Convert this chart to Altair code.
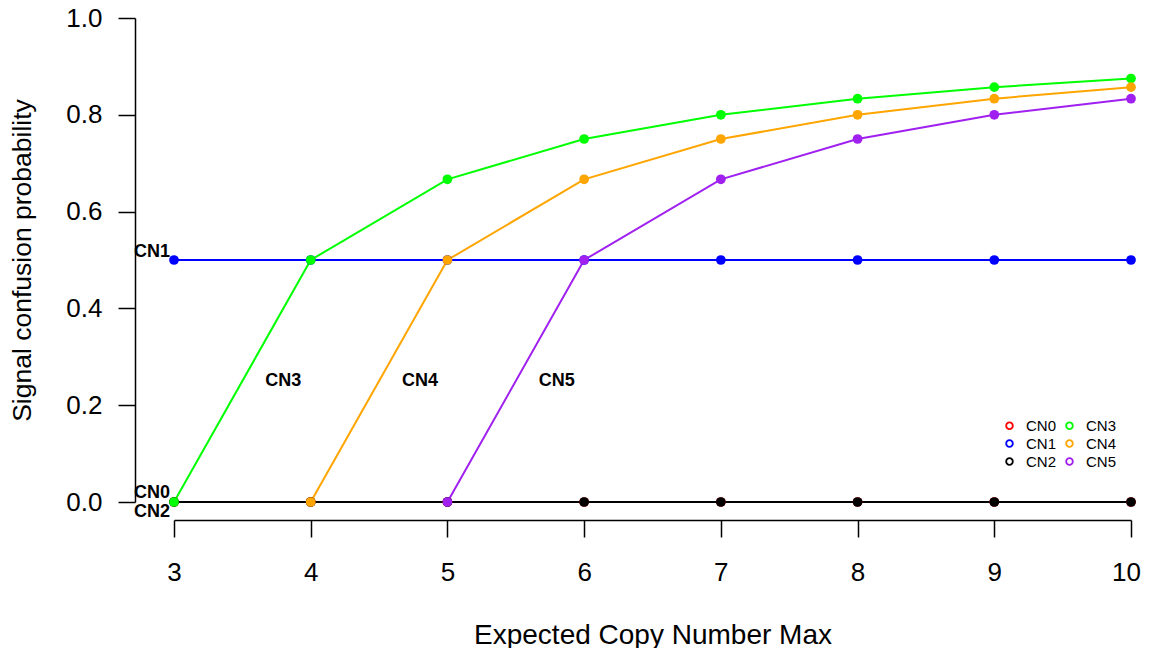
import altair as alt
import pandas as pd

# ---- data ----
x_vals = [3, 4, 5, 6, 7, 8, 9, 10]
series_names = ["CN0", "CN1", "CN2", "CN3", "CN4", "CN5"]
cn0 = [0, 0, 0, 0, 0, 0, 0, 0]
cn1 = [0.5, 0.5, 0.5, 0.5, 0.5, 0.5, 0.5, 0.5]
cn2 = [0, 0, 0, 0, 0, 0, 0, 0]
cn3 = [0, 0.5, 0.6667, 0.75, 0.8, 0.8333, 0.8571, 0.875]
cn4 = [None, 0, 0.5, 0.6667, 0.75, 0.8, 0.8333, 0.8571]
cn5 = [None, None, 0, 0.5, 0.6667, 0.75, 0.8, 0.8333]
series_colors = ["#FF0000", "#0000FF", "#000000", "#00FF00", "#FFA500", "#A020F0"]

label_text = ["CN0", "CN1", "CN2", "CN3", "CN4", "CN5"]
label_x = [2.97, 2.97, 2.97, 3.8, 4.8, 5.8]
label_y = [0.008, 0.506, -0.031, 0.25, 0.25, 0.25]
label_align = ["right", "right", "right", "center", "center", "center"]

x_ticks = [3, 4, 5, 6, 7, 8, 9, 10]
y_ticks = [0.0, 0.2, 0.4, 0.6, 0.8, 1.0]

# ---- tables ----
rows = []
for name, vals in zip(series_names, [cn0, cn1, cn2, cn3, cn4, cn5]):
    for x, v in zip(x_vals, vals):
        if v is not None:
            rows.append({"x": x, "y": v, "series": name, "key": name})
df = pd.DataFrame(rows)

lab = pd.DataFrame({"text": label_text, "x": label_x, "y": label_y, "align": label_align})

FONT = "Liberation Sans"

# open-circle (ring) legend symbol: outer and inner circles wound in opposite directions
RING = ("M-1,0A1,1 0 1,0 1,0A1,1 0 1,0 -1,0Z"
        "M-0.56,0A0.56,0.56 0 1,1 0.56,0A0.56,0.56 0 1,1 -0.56,0Z")

xscale = alt.Scale(domain=[3, 10], nice=False, zero=False)
yscale = alt.Scale(domain=[0, 1], nice=False, zero=False)

xaxis = alt.Axis(
    title="Expected Copy Number Max", values=x_ticks, format="d",
    offset=18, tickSize=17, tickWidth=1.5, domainWidth=1.5,
    domainColor="black", tickColor="black", grid=False,
    labelFont=FONT, labelFontSize=26, labelColor="black", labelPadding=22,
    labelFlush=False, labelOverlap=False,
    labelOffset={"condition": {"test": "datum.value == 10", "value": -5}, "value": 0},
    titleFont=FONT, titleFontSize=28, titleFontWeight="normal", titleColor="black",
    titlePadding=36,
)
yaxis = alt.Axis(
    title="Signal confusion probability", values=y_ticks, format=".1f",
    offset=39, tickSize=17, tickWidth=1.5, domainWidth=1.5,
    domainColor="black", tickColor="black", grid=False,
    labelFont=FONT, labelFontSize=26, labelColor="black", labelPadding=16,
    labelFlush=False, labelOverlap=False,
    titleFont=FONT, titleFontSize=26.5, titleFontWeight="normal", titleColor="black",
    titlePadding=29,
)

lines = alt.Chart(df).mark_line(strokeWidth=2).encode(
    x=alt.X("x:Q", scale=xscale, axis=xaxis),
    y=alt.Y("y:Q", scale=yscale, axis=yaxis),
    stroke=alt.Stroke(
        "series:N", scale=alt.Scale(domain=series_names, range=series_colors),
        legend=alt.Legend(
            orient="none", legendX=828, legendY=400, columns=2, title=None,
            symbolType=RING, symbolSize=72, symbolStrokeWidth=0,
            labelFont=FONT, labelFontSize=15, labelColor="black", labelOffset=9,
            columnPadding=5, rowPadding=2, padding=0,
        ),
    ),
    detail="series:N",
)

points = alt.Chart(df).mark_circle(size=95, opacity=1).encode(
    x="x:Q",
    y="y:Q",
    fill=alt.Fill("key:N", scale=alt.Scale(domain=series_names, range=series_colors), legend=None),
)

txt_right = alt.Chart(lab).transform_filter(alt.datum.align == "right").mark_text(
    align="right", baseline="alphabetic", font=FONT, fontSize=18, fontWeight="bold", color="black"
).encode(x="x:Q", y="y:Q", text="text:N")

txt_center = alt.Chart(lab).transform_filter(alt.datum.align == "center").mark_text(
    align="center", baseline="middle", font=FONT, fontSize=18, fontWeight="bold", color="black"
).encode(x="x:Q", y="y:Q", text="text:N")

chart = alt.layer(lines, points, txt_right, txt_center).properties(
    width=957, height=484,
    autosize=alt.AutoSizeParams(type="none"),
    padding={"left": 166, "top": 10, "right": 12, "bottom": 146},
).configure(background="white").configure_view(stroke=None)

chart.save("out.html", embed_options={"renderer": "svg", "actions": False})
